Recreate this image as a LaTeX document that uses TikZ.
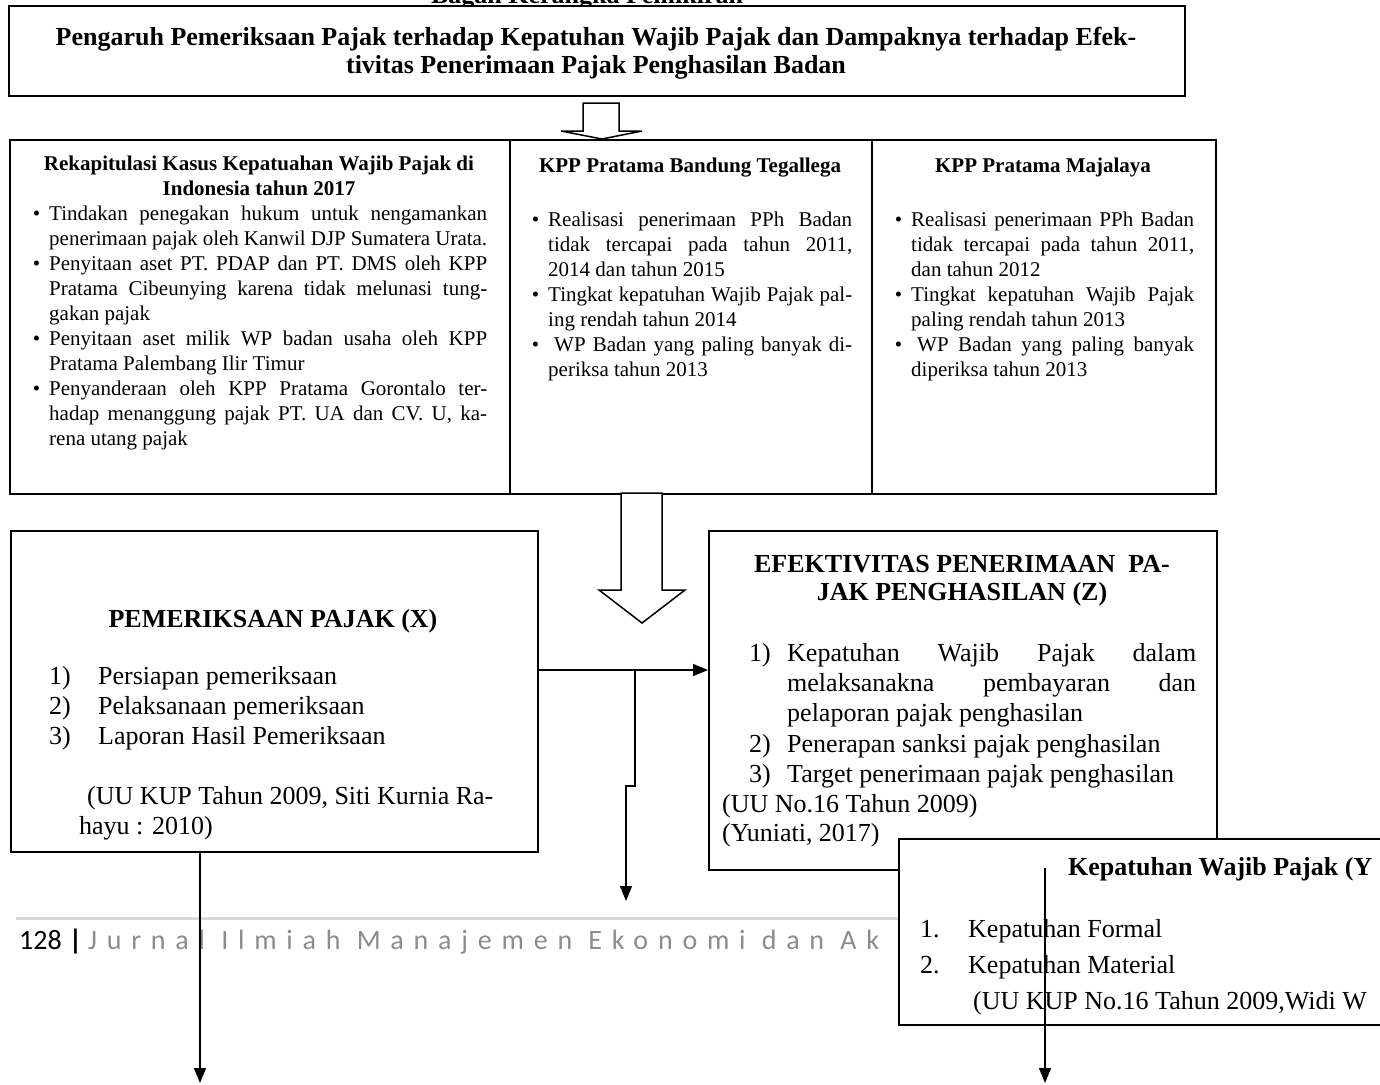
\documentclass[tikz,border=0pt]{standalone}
\usepackage{fontspec}
\setmainfont{Liberation Serif}
\newfontfamily\kakifont{Carlito}
\newfontfamily\kakijarang[LetterSpace=35]{Carlito}
\usetikzlibrary{arrows.meta}
\definecolor{abu}{gray}{0.55}
\definecolor{abumuda}{gray}{0.85}
\newcommand{\fkecil}{\fontsize{21}{25}\selectfont}
\newcommand{\fbesar}{\fontsize{26}{30}\selectfont}
\newcommand{\butir}{\par\noindent\llap{\textbullet\hspace{9pt}}}

\begin{document}
\begin{tikzpicture}[x=1pt,y=-1pt,
	kotak/.style={draw,line width=2pt,fill=white,anchor=north west,inner sep=0pt},
	tebal/.style={inner sep=0pt,anchor=base,font=\bfseries\fbesar},
	biasa/.style={inner sep=0pt,anchor=base west,font=\fbesar},
	judulkecil/.style={inner sep=0pt,anchor=base,font=\bfseries\fkecil},
	butiran/.style={inner sep=0pt,anchor=north west,align=justify,font=\fkecil,text width=#1},
	blok/.style={draw,line width=1.5pt,fill=white},
	panah/.style={line width=1.4pt,-{Triangle[length=15pt,width=12pt]}}]
\useasboundingbox (0,0) rectangle (1380,1084);

\node[tebal] (bagan) at (587,4) {Bagan Kerangka Pemikiran};

\draw[abumuda,line width=3pt] (16,918) -- (898,918);
\node[inner sep=0pt,anchor=base west,font=\kakifont\fontsize{28}{30}\selectfont] (halaman) at (19,949) {128\hspace{0.25em}\textbf{|}};
\node[inner sep=0pt,anchor=base west,font=\kakijarang\fontsize{28}{30}\selectfont,text=abu] (jurnal) at (88,949) {Jurnal Ilmiah Manajemen Ekonomi dan Ak};

\node[kotak,minimum width=1176pt,minimum height=90pt] (judul) at (8,5) {};
\node[tebal] (judul1) at (596,45) {Pengaruh Pemeriksaan Pajak terhadap Kepatuhan Wajib Pajak dan Dampaknya terhadap Efek-};
\node[tebal] (judul2) at (596,73) {tivitas Penerimaan Pajak Penghasilan Badan};

\node[kotak,minimum width=500pt,minimum height=354pt] (rekap) at (9,139) {};
\node[kotak,minimum width=362pt,minimum height=354pt] (tegallega) at (509,139) {};
\node[kotak,minimum width=344pt,minimum height=354pt] (majalaya) at (871,139) {};

\draw[blok] (583,103) -- (619,103) -- (619,131) -- (642,131) -- (602,139) -- (561,131) -- (583,131) -- cycle;

\node[judulkecil] (rekapjudul1) at (259,170) {Rekapitulasi Kasus Kepatuahan Wajib Pajak di};
\node[judulkecil] (rekapjudul2) at (259,195) {Indonesia tahun 2017};
\node[butiran=438pt] (rekapisi) at (49,195) {\butir Tindakan penegakan hukum untuk nengamankan\linebreak penerimaan pajak oleh Kanwil DJP Sumatera Urata.
\butir Penyitaan aset PT. PDAP dan PT. DMS oleh KPP\linebreak Pratama Cibeunying karena tidak melunasi tung-\linebreak gakan pajak
\butir Penyitaan aset milik WP badan usaha oleh KPP\linebreak Pratama Palembang Ilir Timur
\butir Penyanderaan oleh KPP Pratama Gorontalo ter-\linebreak hadap menanggung pajak PT. UA dan CV. U, ka-\linebreak rena utang pajak};

\node[judulkecil] (tegallegajudul) at (690,172) {KPP Pratama Bandung Tegallega};
\node[butiran=304pt] (tegallegaisi) at (548,201) {\butir Realisasi penerimaan PPh Badan\linebreak tidak tercapai pada tahun 2011,\linebreak 2014 dan tahun 2015
\butir Tingkat kepatuhan Wajib Pajak pal-\linebreak ing rendah tahun 2014
\butir \hspace{6pt}WP Badan yang paling banyak di-\linebreak periksa tahun 2013};

\node[judulkecil] (majalayajudul) at (1043,172) {KPP Pratama Majalaya};
\node[butiran=283pt] (majalayaisi) at (911,201) {\butir Realisasi penerimaan PPh Badan\linebreak tidak tercapai pada tahun 2011,\linebreak dan tahun 2012
\butir Tingkat kepatuhan Wajib Pajak\linebreak paling rendah tahun 2013
\butir \hspace{6pt}WP Badan yang paling banyak\linebreak diperiksa tahun 2013};

\draw[blok] (621,493) -- (662,493) -- (662,590) -- (685,590) -- (642,623) -- (599,590) -- (621,590) -- cycle;

\node[kotak,minimum width=527pt,minimum height=321pt] (pemeriksaan) at (10,530) {};
\node[tebal] (pemeriksaanjudul) at (273,627) {PEMERIKSAAN PAJAK (X)};
\node[biasa] (x1) at (49,684) {1)};
\node[biasa] (x1teks) at (98,684) {Persiapan pemeriksaan};
\node[biasa] (x2) at (49,714) {2)};
\node[biasa] (x2teks) at (98,714) {Pelaksanaan pemeriksaan};
\node[biasa] (x3) at (49,744) {3)};
\node[biasa] (x3teks) at (98,744) {Laporan Hasil Pemeriksaan};
\node[biasa] (xsumber1) at (87,804) {(UU KUP Tahun 2009, Siti Kurnia Ra-};
\node[biasa] (xsumber2) at (79,834) {hayu : 2010)};

\node[kotak,minimum width=508pt,minimum height=339pt] (efektivitas) at (708,530) {};
\node[tebal] (zjudul1) at (962,572) {EFEKTIVITAS PENERIMAAN\ \ PA-};
\node[tebal] (zjudul2) at (962,600) {JAK PENGHASILAN (Z)};
\node[biasa] (z1) at (749,661) {1)};
\node[butiran=409pt,font=\fbesar] (z1teks) at (787,643) {Kepatuhan Wajib Pajak dalam\linebreak melaksanakna pembayaran dan\linebreak pelaporan pajak penghasilan};
\node[biasa] (z2) at (749,752) {2)};
\node[biasa] (z2teks) at (787,752) {Penerapan sanksi pajak penghasilan};
\node[biasa] (z3) at (749,782) {3)};
\node[biasa] (z3teks) at (787,782) {Target penerimaan pajak penghasilan};
\node[biasa] (zsumber1) at (722,812) {(UU No.16 Tahun 2009)};
\node[biasa] (zsumber2) at (722,841) {(Yuniati, 2017)};

\node[kotak,minimum width=600pt,minimum height=186pt] (kepatuhan) at (898,838) {};
\node[inner sep=0pt,anchor=base west,font=\bfseries\fbesar] (yjudul) at (1068,875) {Kepatuhan Wajib Pajak (Y};
\node[biasa] (y1) at (920,937) {1.};
\node[biasa] (y1teks) at (968,937) {Kepatuhan Formal};
\node[biasa] (y2) at (920,973) {2.};
\node[biasa] (y2teks) at (968,973) {Kepatuhan Material};
\node[biasa] (ysumber) at (973,1009) {(UU KUP No.16 Tahun 2009,Widi W};

\coordinate (cabang) at (635,670);
\coordinate (ujungtengah) at (626,901);
\coordinate (ujungkiri) at (200,1083);
\coordinate (pangkalkanan) at (1045,868);
\coordinate (ujungkanan) at (1045,1083);
\draw[panah] (pemeriksaan.east |- cabang) -- (efektivitas.west |- cabang);
\draw[panah] (cabang) -- ++(0,116) -| (ujungtengah);
\draw[panah] (pemeriksaan.south -| ujungkiri) -- (ujungkiri);
\draw[panah] (pangkalkanan) -- (ujungkanan);
\end{tikzpicture}
\end{document}
